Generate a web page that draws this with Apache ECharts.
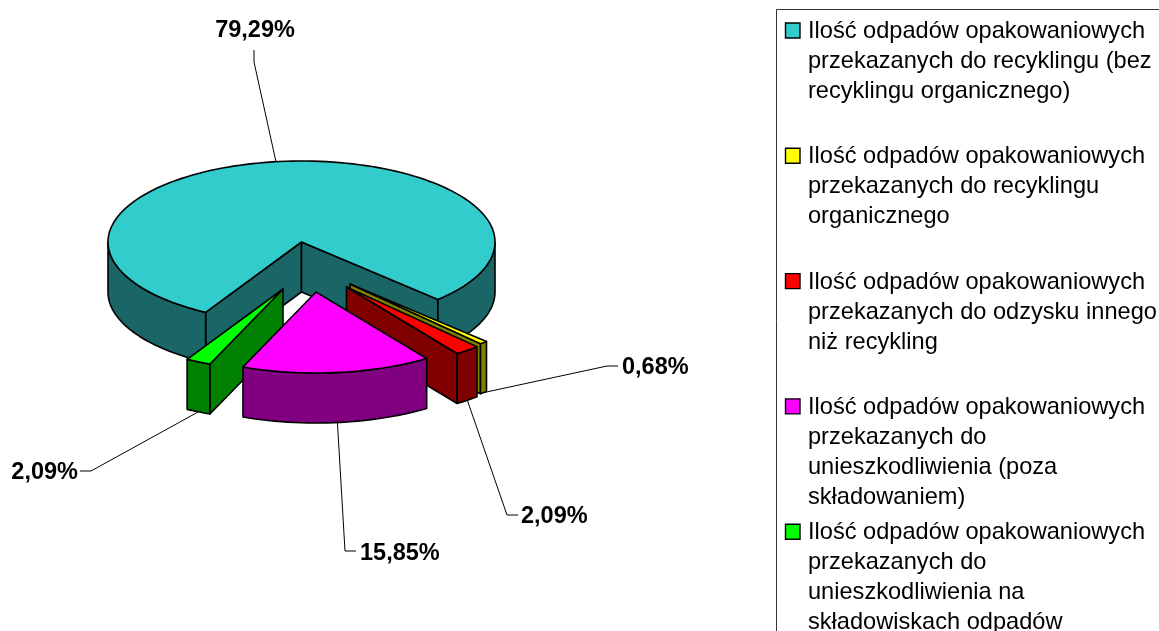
<!DOCTYPE html>
<html>
<head>
<meta charset="utf-8">
<style>
  html, body { margin: 0; padding: 0; background: #fff; overflow: hidden; }
  #chart { width: 1159px; height: 631px; }
</style>
<script src="https://cdn.jsdelivr.net/npm/echarts@6/dist/echarts.min.js"></script>
</head>
<body>
<div id="chart"></div>
<script>
// shares in clockwise order, same order as the legend
const sliceValues = [79.29, 0.68, 2.09, 15.85, 2.09];
const legendLabels = [
  'Ilość odpadów opakowaniowych\nprzekazanych do recyklingu (bez\nrecyklingu organicznego)',
  'Ilość odpadów opakowaniowych\nprzekazanych do recyklingu\norganicznego',
  'Ilość odpadów opakowaniowych\nprzekazanych do odzysku innego\nniż recykling',
  'Ilość odpadów opakowaniowych\nprzekazanych do\nunieszkodliwienia (poza\nskładowaniem)',
  'Ilość odpadów opakowaniowych\nprzekazanych do\nunieszkodliwienia na\nskładowiskach odpadów'
];

const topColors = ['#33cccc', '#ffff00', '#ff0000', '#ff00ff', '#00ff00'];
const wallColors = ['#1a6666', '#808000', '#800000', '#800080', '#008000'];
// painter order of the slices, back to front
const paintOrder = [0, 4, 1, 2, 3];
// shift of every slice away from the pie centre, in px
const explode = [[0, 0], [48.5, 42], [45, 45], [14.5, 50], [-18.5, 47]];
// leader polyline: elbow and far end, then the label anchor
const leaderElbow = [[254, 62], [607, 366], [507, 515], [345, 551], [91, 471]];
const leaderEnd = [[254, 50], [618, 366], [518, 515], [356, 551], [80, 471]];
const labelAnchor = [[255, 30.5], [622, 367.5], [521, 516.5], [360, 554], [78, 472.5]];
const labelAlign = ['center', 'left', 'left', 'left', 'right'];

const pie = { cx: 301.5, cy: 242, rx: 193.5, ry: 81, depth: 50, startDeg: 209.7 };
const total = sliceValues.reduce((a, b) => a + b, 0);

const rad = (deg) => (deg * Math.PI) / 180;

function rimPoint(offset, deg, drop) {
  return [
    pie.cx + offset[0] + pie.rx * Math.sin(rad(deg)),
    pie.cy + offset[1] - pie.ry * Math.cos(rad(deg)) + drop
  ];
}

function arcPoints(offset, from, to, drop) {
  const pts = [];
  const steps = Math.max(2, Math.ceil(Math.abs(to - from) / 2));
  for (let i = 0; i <= steps; i++) pts.push(rimPoint(offset, from + ((to - from) * i) / steps, drop));
  return pts;
}

function renderSlice(params, api) {
  const idx = params.dataIndex;
  let before = 0;
  for (let i = 0; i < idx; i++) before += sliceValues[i];
  const a0 = pie.startDeg + (before / total) * 360;
  const a1 = a0 + (api.value(0) / total) * 360;
  const off = explode[idx];
  const apex = [pie.cx + off[0], pie.cy + off[1]];
  const apexLow = [apex[0], apex[1] + pie.depth];
  const z = (paintOrder.indexOf(idx) + 1) * 10;
  const edge = { stroke: '#000', lineWidth: 1.6, lineJoin: 'round' };
  const children = [];

  // cut faces that turn towards the viewer
  const faces = [];
  if (Math.sin(rad(a0)) < 0) faces.push(a0);
  if (Math.sin(rad(a1)) > 0) faces.push(a1);
  faces.forEach((deg) => {
    children.push({
      type: 'polygon',
      z2: z,
      shape: { points: [apex, rimPoint(off, deg, 0), rimPoint(off, deg, pie.depth), apexLow] },
      style: { fill: wallColors[idx], ...edge }
    });
  });

  // rim wall, only the front half of the ellipse shows
  [0, 360].forEach((turn) => {
    const from = Math.max(a0, 90 + turn);
    const to = Math.min(a1, 270 + turn);
    if (to <= from) return;
    children.push({
      type: 'polygon',
      z2: z + 1,
      shape: { points: arcPoints(off, from, to, 0).concat(arcPoints(off, to, from, pie.depth)) },
      style: { fill: wallColors[idx], ...edge }
    });
  });

  children.push({
    type: 'polygon',
    z2: z + 2,
    shape: { points: [apex].concat(arcPoints(off, a0, a1, 0)) },
    style: { fill: topColors[idx], ...edge }
  });

  // leader starts on the rim at mid angle: top edge for the back slice, bottom edge for the front ones
  const mid = (a0 + a1) / 2;
  const frontSide = Math.cos(rad(mid)) < 0;
  children.push({
    type: 'polyline',
    z2: frontSide ? 0 : 60,
    shape: { points: [rimPoint(off, mid, frontSide ? pie.depth : 0), leaderElbow[idx], leaderEnd[idx]] },
    style: { fill: null, stroke: '#000', lineWidth: 1 }
  });
  children.push({
    type: 'text',
    z2: 70,
    x: labelAnchor[idx][0],
    y: labelAnchor[idx][1],
    style: {
      text: api.value(0).toFixed(2).replace('.', ',') + '%',
      font: 'bold 23.5px "Liberation Sans", Arial, sans-serif',
      fill: '#000',
      align: labelAlign[idx],
      verticalAlign: 'middle'
    }
  });
  return { type: 'group', children };
}

// legend box runs past the window on the right and bottom, like the original
const legendGraphic = [
  {
    type: 'rect',
    shape: { x: 776.5, y: 9.5, width: 500, height: 700 },
    style: { fill: '#fff', stroke: '#333', lineWidth: 1 }
  }
];
legendLabels.forEach((label, i) => {
  const rowCentre = 30.5 + i * 125.3;
  legendGraphic.push({
    type: 'rect',
    z: 2,
    shape: { x: 785.5, y: rowCentre - 7.5, width: 14.5, height: 15 },
    style: { fill: topColors[i], stroke: '#000', lineWidth: 1.4 }
  });
  legendGraphic.push({
    type: 'text',
    z: 2,
    x: 808,
    y: rowCentre - 14,
    style: {
      text: label,
      font: '23.6px "Liberation Sans", Arial, sans-serif',
      lineHeight: 30,
      fill: '#000'
    }
  });
});

const chart = echarts.init(document.getElementById('chart'), null, { renderer: 'canvas' });
chart.setOption({
  animation: false,
  backgroundColor: '#fff',
  graphic: legendGraphic,
  series: [
    {
      type: 'custom',
      coordinateSystem: 'none',
      clip: false,
      silent: true,
      data: sliceValues.map((v) => [v]),
      renderItem: renderSlice
    }
  ]
});
</script>
</body>
</html>
